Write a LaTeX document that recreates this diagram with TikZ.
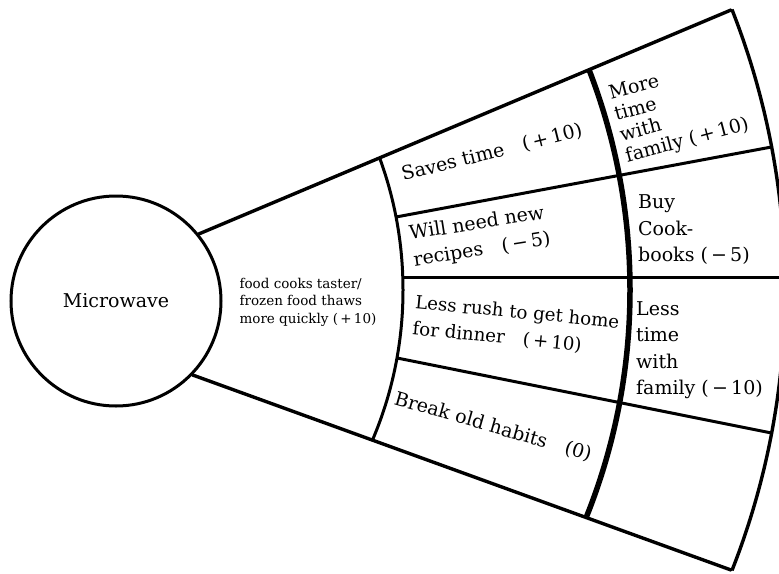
\documentclass[tikz,border=0pt]{standalone}
\usepackage{fontspec}
\setmainfont{DejaVu Serif}
\usepackage{tikz}
\usetikzlibrary{calc,positioning}
\tikzset{
  rayline/.style={line width=3.4pt, line cap=round},
  ringline/.style={line width=3pt},
  mainring/.style={line width=5.5pt},
  hubcircle/.style={circle, draw, line width=3pt, minimum size=210pt, inner sep=0pt},
  celltext/.style={align=left, inner sep=0pt, font=\fontsize{19}{26.5}\selectfont},
  smalltext/.style={align=left, inner sep=0pt, font=\fontsize{13.5}{17.5}\selectfont}
}
\begin{document}
\begin{tikzpicture}[x=1pt,y=-1pt]
  \useasboundingbox (0,0) rectangle (779,573);
  \clip (0,0) rectangle (779,573);
  \coordinate (hub) at (20,290);
  \coordinate (topend) at (731,10);
  \coordinate (botend) at (731,570);
  \node[hubcircle, font=\fontsize{19}{26}\selectfont] (mw) at (116,301) {Microwave};
  \begin{scope}
    \clip (mw.39) -- ($(mw.39)!1.3!(topend)$) -- ($(mw.-44)!1.3!(botend)$) -- (mw.-44) -- cycle;
    \draw[ringline] (hub) circle[radius=383];
    \draw[mainring] (hub) circle[radius=610];
    \draw[rayline] (hub) circle[radius=765];
    \coordinate (a1) at (396,217);
    \coordinate (c1) at (771.5,147);
    \coordinate (a2) at (402.8,277);
    \coordinate (c2) at (800,277);
    \coordinate (a3) at (397,358);
    \coordinate (c3) at (771.5,433);
    \draw[ringline] (a1) -- (c1);
    \draw[ringline] (a2) -- (c2);
    \draw[ringline] (a3) -- (c3);
  \end{scope}
  \draw[rayline] (mw.39) -- (topend);
  \draw[rayline] (mw.-44) -- (botend);
  \node[smalltext] (food) at (308,302) {food cooks taster/\\frozen food thaws\\more quickly (\,+\,10)};
  \node[celltext, rotate=14] (saves) at (492,153) {Saves time\quad(\,+\,10)};
  \node[celltext, rotate=9] (recipes) at (480,237) {Will need new\\recipes\quad(\,−\,5)};
  \node[celltext, rotate=-5.5, font=\fontsize{18.2}{26.5}\selectfont] (rush) at (516,326) {Less rush to get home\\for dinner\quad(\,+\,10)};
  \node[celltext, rotate=-16] (habits) at (493,427) {Break old habits\quad(0)};
  \node[celltext, rotate=15, font=\fontsize{19}{21.5}\selectfont] (moretime) at (679,110) {More\\time\\with\\family (\,+\,10)};
  \node[celltext, anchor=west] (cookbooks) at (638,230) {Buy\\Cook-\\books (\,−\,5)};
  \node[celltext, anchor=west] (lesstime) at (636,350) {Less\\time\\with\\family (\,−\,10)};
\end{tikzpicture}
\end{document}
